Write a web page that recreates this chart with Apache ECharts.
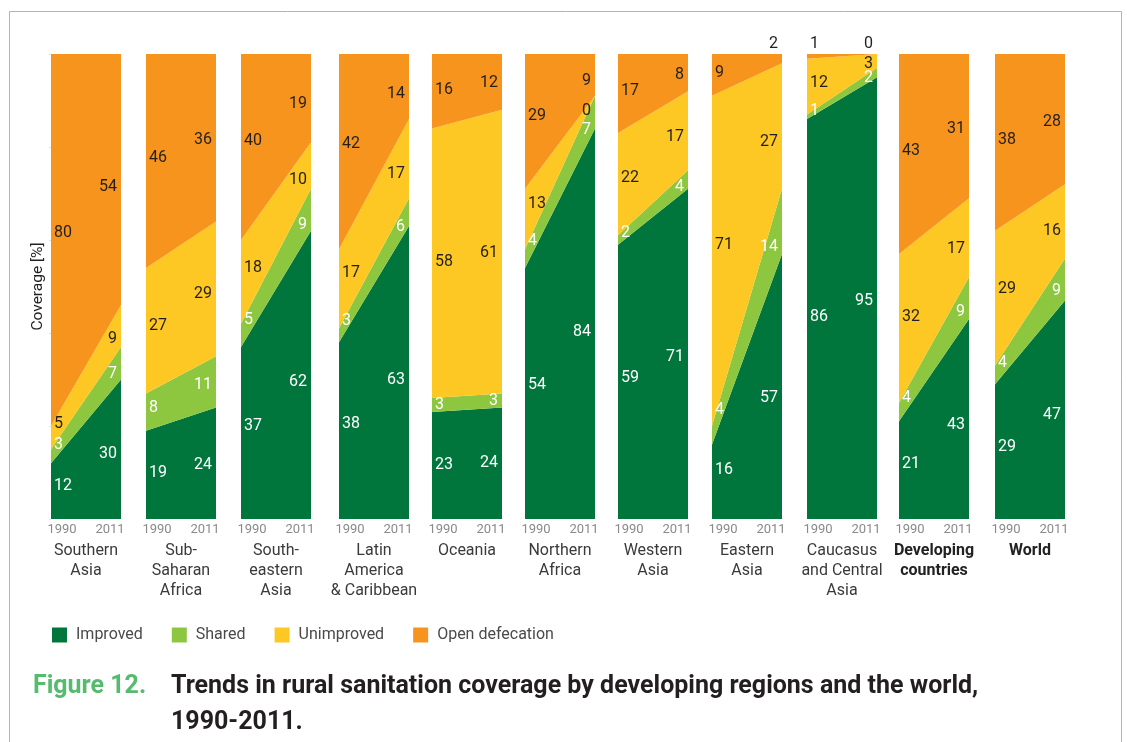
<!DOCTYPE html>
<html><head><meta charset="utf-8">
<script src="https://cdn.jsdelivr.net/npm/echarts@6/dist/echarts.min.js"></script>
<style>html,body{margin:0;padding:0;background:#fff}#c{width:1127px;height:742px}</style>
</head><body><div id="c"></div>
<script>
// ---- data ----
const years = ['1990', '2011'];
const regions = ['Southern\nAsia', 'Sub-\nSaharan\nAfrica', 'South-\neastern\nAsia', 'Latin\nAmerica\n& Caribbean', 'Oceania', 'Northern\nAfrica', 'Western\nAsia', 'Eastern\nAsia', 'Caucasus\nand Central\nAsia', 'Developing\ncountries', 'World'];
const seriesNames = ['Improved', 'Shared', 'Unimproved', 'Open defecation'];
// each entry: [1990, 2011]
const improved   = [[12,30],[19,24],[37,62],[38,63],[23,24],[54,84],[59,71],[16,57],[86,95],[21,43],[29,47]];
const shared     = [[3,7],[8,11],[5,9],[3,6],[3,3],[4,7],[2,4],[4,14],[1,2],[4,9],[4,9]];
const unimproved = [[5,9],[27,29],[18,10],[17,17],[58,61],[13,0],[22,17],[71,27],[12,3],[32,17],[29,16]];
const openDef    = [[80,54],[46,36],[40,19],[42,14],[16,12],[29,9],[17,8],[9,2],[1,0],[43,31],[38,28]];
const boldRegions = [9, 10];
const yTicks = { min: 0, max: 100, interval: 20 };

// ---- layout / style ----
const panelLeft = [51, 146, 241, 339, 432, 525, 618, 712, 807, 899, 995];
const panelWidth = 70, panelTop = 54, panelHeight = 465;
const colors = ['#00763d', '#8dc63f', '#fdc724', '#f7941e'];
const FONT = 'Roboto, "Noto Sans", sans-serif';

const allSeries = [improved, shared, unimproved, openDef];
const grids = [], xAxes = [], yAxes = [], series = [];

regions.forEach((reg, i) => {
  grids.push({ left: panelLeft[i], top: panelTop, width: panelWidth, height: panelHeight });
  xAxes.push({
    type: 'category', gridIndex: i, data: years, boundaryGap: false,
    axisLine: { show: false }, axisTick: { show: false },
    axisLabel: {
      interval: 0, margin: 4, showMinLabel: true, showMaxLabel: true,
      formatter: (v, idx) => idx === 0 ? '{a|' + v + '}' : '{b|' + v + '}',
      rich: {
        a: { padding: [0, 0, 0, 22], fontSize: 13, color: '#8a8a8a', fontFamily: FONT },
        b: { padding: [0, 22, 0, 0], fontSize: 13, color: '#8a8a8a', fontFamily: FONT }
      }
    },
    name: reg, nameLocation: 'middle', nameGap: 19,
    nameTextStyle: {
      fontSize: 16, lineHeight: 20, color: boldRegions.includes(i) ? '#222' : '#3a3a3a',
      fontWeight: boldRegions.includes(i) ? 'bold' : 'normal', fontFamily: FONT, verticalAlign: 'top'
    }
  });
  const y = {
    type: 'value', gridIndex: i, min: yTicks.min, max: yTicks.max, interval: yTicks.interval,
    axisLine: { show: false }, axisLabel: { show: false }, splitLine: { show: false },
    axisTick: { show: false }
  };
  if (i === 0) {
    Object.assign(y, {
      name: 'Coverage [%]', nameLocation: 'middle', nameGap: 5,
      nameTextStyle: { fontSize: 15.5, color: '#231f20', fontFamily: FONT },
      axisTick: { show: true, length: 2, lineStyle: { color: '#e2e2e2' } }
    });
  }
  yAxes.push(y);

  // stacked areas
  allSeries.forEach((arr, k) => {
    series.push({
      type: 'line', name: seriesNames[k], xAxisIndex: i, yAxisIndex: i, stack: 'r' + i,
      data: arr[i], symbol: 'none', showSymbol: false, silent: true,
      color: colors[k], itemStyle: { color: colors[k] },
      lineStyle: { width: 0, opacity: 0 },
      areaStyle: { color: colors[k], opacity: 1 },
      z: 2
    });
  });

  // value labels, positioned from cumulative values via axis scales
  const labelData = [];
  let cum0 = 0, cum1 = 0;
  allSeries.forEach((arr, k) => {
    const lo0 = cum0, lo1 = cum1;
    cum0 += arr[i][0]; cum1 += arr[i][1];
    labelData.push([0, lo0, cum0, lo1, cum1, arr[i][0], k]);
    labelData.push([1, lo0, cum0, lo1, cum1, arr[i][1], k]);
  });
  series.push({
    type: 'custom', xAxisIndex: i, yAxisIndex: i, clip: false, silent: true, z: 5,
    encode: { x: 0, y: 1 },
    data: labelData,
    renderItem: (params, api) => {
      const side = api.value(0);
      const lo0 = api.value(1), hi0 = api.value(2), lo1 = api.value(3), hi1 = api.value(4);
      const val = api.value(5), k = api.value(6);
      const f = side === 0 ? 0.12 : 0.88;
      const lo = lo0 + (lo1 - lo0) * f, hi = hi0 + (hi1 - hi0) * f;
      const xL = api.coord([0, 0])[0], xR = api.coord([1, 0])[0];
      const above = (k === 3 && val <= 2);
      const yPix = above ? api.coord([0, 100])[1] - 10 : api.coord([0, (lo + hi) / 2])[1];
      return {
        type: 'text',
        x: side === 0 ? xL + 3 : xR - 4,
        y: yPix,
        style: {
          text: String(val),
          align: side === 0 ? 'left' : 'right',
          verticalAlign: 'middle',
          fill: (k < 2 && !above) ? '#ffffff' : '#231f20',
          font: '16px ' + FONT
        }
      };
    }
  });
});

const option = {
  animation: false,
  backgroundColor: '#ffffff',
  grid: grids, xAxis: xAxes, yAxis: yAxes, series: series,
  legend: {
    left: 52, top: 627, padding: 0, itemWidth: 15, itemHeight: 15, itemGap: 29,
    selectedMode: false,
    itemStyle: { borderWidth: 0 },
    data: seriesNames.map((n, k) => ({ name: n, icon: 'rect', itemStyle: { color: colors[k], opacity: 1 } })),
    textStyle: { fontSize: 16, color: '#4a4a4a', fontFamily: FONT, padding: [0, 0, 0, 4] }
  },
  title: [
    { text: 'Figure 12.', left: 33, top: 669, padding: 0,
      textStyle: { color: '#55bb6e', fontSize: 25, fontWeight: 'bold', fontFamily: FONT, lineHeight: 36 } },
    { text: 'Trends in rural sanitation coverage by developing regions and the world,\n1990-2011.', left: 171, top: 669, padding: 0,
      textStyle: { color: '#231f20', fontSize: 25, fontWeight: 'bold', fontFamily: FONT, lineHeight: 36 } }
  ],
  graphic: [{
    type: 'polyline', silent: true,
    shape: { points: [[9.5, 760], [9.5, 11.5], [1121.5, 11.5], [1121.5, 760]] },
    style: { stroke: '#b3b3b3', lineWidth: 1, fill: null }
  }]
};

const chart = echarts.init(document.getElementById('c'), null, { renderer: 'canvas' });
chart.setOption(option);
</script>
</body></html>
